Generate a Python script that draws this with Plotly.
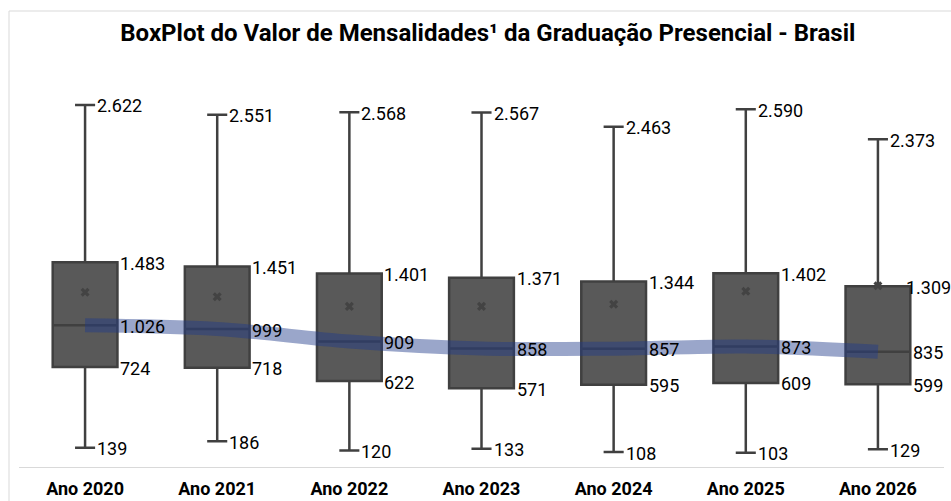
import plotly.graph_objects as go

categories = ["Ano 2020", "Ano 2021", "Ano 2022", "Ano 2023", "Ano 2024", "Ano 2025", "Ano 2026"]
maximos = [2622, 2551, 2568, 2567, 2463, 2590, 2373]
q3 = [1483, 1451, 1401, 1371, 1344, 1402, 1309]
medianas = [1026, 999, 909, 858, 857, 873, 835]
q1 = [724, 718, 622, 571, 595, 609, 599]
minimos = [139, 186, 120, 133, 108, 103, 129]
medias = [1265, 1232, 1163, 1163, 1178, 1272, 1312]

def fmt(v):
    return f"{v:,}".replace(",", ".")

xs = list(range(len(categories)))
FONT = "Roboto, Noto Sans, sans-serif"

fig = go.Figure()
fig.add_trace(go.Box(
    x=xs, q1=q1, median=medianas, q3=q3,
    lowerfence=minimos, upperfence=maximos,
    width=0.49, whiskerwidth=0.31,
    fillcolor="#595959", line=dict(color="#404040", width=2.5),
    boxpoints=False, showlegend=False, hoverinfo="skip",
))
fig.add_trace(go.Scatter(
    x=xs, y=medias, mode="markers",
    marker=dict(symbol="x", size=8, color="#434343", line=dict(width=0)),
    showlegend=False, hoverinfo="skip",
))
fig.add_trace(go.Scatter(
    x=xs, y=medianas, mode="lines",
    line=dict(color="rgba(30,58,138,0.45)", width=14, shape="spline"),
    showlegend=False, hoverinfo="skip",
))

annotations = []
last = len(xs) - 1
for i in xs:
    for val, shift in [(maximos[i], 10), (minimos[i], 10), (q3[i], 33 if i < last else 26),
                       (medianas[i], 33), (q1[i], 33)]:
        annotations.append(dict(
            x=i, y=val, xref="x", yref="y", text=fmt(val), showarrow=False,
            xanchor="left", yanchor="middle", xshift=shift, yshift=-1,
            font=dict(family=FONT, size=18, color="#000000"),
        ))

fig.update_layout(
    width=951, height=501,
    margin=dict(l=19, r=7, t=60, b=34),
    paper_bgcolor="white", plot_bgcolor="white",
    title=dict(text="<b>BoxPlot do Valor de Mensalidades¹ da Graduação Presencial - Brasil</b>",
               x=482 / 951, xanchor="center", y=1 - 33 / 501, yanchor="middle",
               xref="paper",
               font=dict(family=FONT, size=24, color="#000000")),
    xaxis=dict(range=[-0.5, 6.5], tickvals=xs, ticktext=[f"<b>{c}</b>" for c in categories],
               showgrid=False, zeroline=False, showline=True, linecolor="#d9d9d9", linewidth=1,
               ticks="outside", ticklen=5, tickcolor="rgba(0,0,0,0)", automargin=False,
               tickfont=dict(family=FONT, size=18, color="#000000"), fixedrange=True),
    yaxis=dict(range=[0, 2947], showgrid=False, zeroline=False, showline=False,
               showticklabels=False, fixedrange=True, automargin=False),
    annotations=annotations,
    shapes=[dict(type="rect", xref="paper", yref="paper",
                 x0=(9 - 19) / 925, x1=1.2, y0=-0.3, y1=(467 - 11) / 407,
                 line=dict(color="#d9d9d9", width=1), layer="below")],
)

fig.write_html("out.html", config={"displayModeBar": False})
with open("out.html", "r", encoding="utf-8") as f:
    html = f.read()
html = html.replace("<head>", "<head><style>html,body{margin:0;padding:0;overflow:hidden;}</style>", 1)
with open("out.html", "w", encoding="utf-8") as f:
    f.write(html)
